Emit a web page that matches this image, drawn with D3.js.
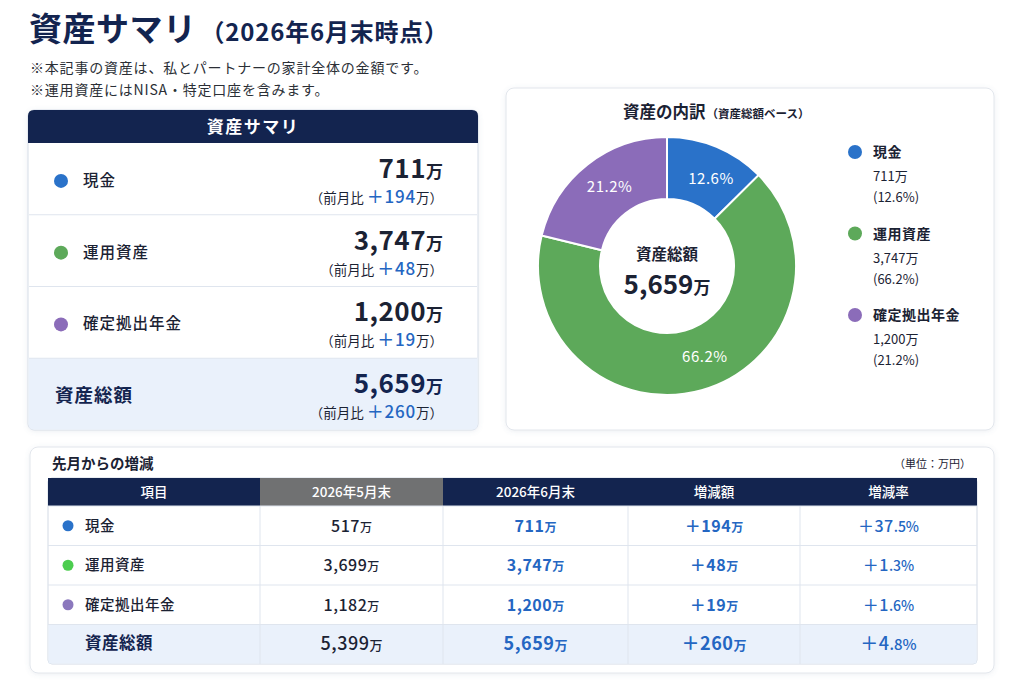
<!DOCTYPE html>
<html>
<head>
<meta charset="utf-8">
<script src="https://cdn.jsdelivr.net/npm/d3@7"></script>
<style>
  body { margin: 0; background: #fff; }
  svg { display: block; font-family: "Noto Sans CJK JP", "Noto Sans", sans-serif; }
</style>
</head>
<body>
<div id="chart"></div>
<script>
// 資産データ（万円）
const categories = ["現金", "運用資産", "確定拠出年金"];
const juneValues = [711, 3747, 1200];
const mayValues = [517, 3699, 1182];
const diffValues = [194, 48, 19];
const diffRates = [37.5, 1.3, 1.6];
const shares = [12.6, 66.2, 21.2];
const totalLabel = "資産総額";
const juneTotal = 5659;
const mayTotal = 5399;
const diffTotal = 260;
const rateTotal = 4.8;
const tableHeaders = ["項目", "2026年5月末", "2026年6月末", "増減額", "増減率"];
const notes = ["※本記事の資産は、私とパートナーの家計全体の金額です。", "※運用資産にはNISA・特定口座を含みます。"];

const W = 1024, H = 683;
const navy = "#13244f", ink = "#1b2233", blue = "#2466c2", line = "#dfe5ee", totalBg = "#eaf1fb";
const color = d3.scaleOrdinal().domain(categories).range(["#2a72c9", "#5da95a", "#8b6cb9"]);
const tableDot = d3.scaleOrdinal().domain(categories).range(["#2a72c9", "#4ccd4f", "#8b78bd"]);
const fmt = d3.format(",");

const svg = d3.select("#chart").append("svg").attr("width", W).attr("height", H);

// うっすら影
const f = svg.append("defs").append("filter").attr("id", "shadow")
  .attr("x", "-5%").attr("y", "-5%").attr("width", "110%").attr("height", "115%");
f.append("feDropShadow").attr("dx", 0).attr("dy", 1).attr("stdDeviation", 2.5)
  .attr("flood-color", "#6b7a99").attr("flood-opacity", 0.12);

// タイトル
const title = svg.append("text").attr("x", 29).attr("y", 41).attr("fill", navy).attr("font-weight", 700);
title.append("tspan").attr("font-size", 33).attr("letter-spacing", 0.5).text("資産サマリ");
title.append("tspan").attr("font-size", 24).attr("dx", 4).attr("letter-spacing", 0.8).text("（2026年6月末時点）");

svg.selectAll("text.note").data(notes).join("text")
  .attr("class", "note").attr("x", 30).attr("y", (d, i) => 73 + i * 22)
  .attr("font-size", 14).attr("letter-spacing", 0.8).attr("fill", "#2b2f36").text(d => d);

/////////////////////////////////////////////////////
// 左：資産サマリカード
/////////////////////////////////////////////////////
const left = { x: 28, y: 110, w: 450, h: 320, head: 33 };
const lg = svg.append("g");
lg.append("rect").attr("x", left.x).attr("y", left.y).attr("width", left.w).attr("height", left.h)
  .attr("rx", 6).attr("fill", "#fff").attr("stroke", "#d6dde8").attr("filter", "url(#shadow)");
lg.append("path")
  .attr("d", `M${left.x},${left.y + left.head} V${left.y + 6} Q${left.x},${left.y} ${left.x + 6},${left.y} H${left.x + left.w - 6} Q${left.x + left.w},${left.y} ${left.x + left.w},${left.y + 6} V${left.y + left.head} Z`)
  .attr("fill", navy);
lg.append("text").attr("x", left.x + left.w / 2).attr("y", left.y + 23).attr("text-anchor", "middle")
  .attr("fill", "#fff").attr("font-size", 17).attr("font-weight", 700).attr("letter-spacing", 1.5).text("資産サマリ");

const summaryRows = categories.map((c, i) => ({ name: c, value: juneValues[i], diff: diffValues[i], total: false }))
  .concat([{ name: totalLabel, value: juneTotal, diff: diffTotal, total: true }]);
const ly = d3.scaleBand().domain(d3.range(summaryRows.length))
  .range([left.y + left.head, left.y + left.h]);

const rowG = lg.selectAll("g.row").data(summaryRows).join("g").attr("class", "row")
  .attr("transform", (d, i) => `translate(0,${ly(i)})`);
rowG.filter(d => d.total).append("path")
  .attr("d", `M${left.x + 0.5},0 H${left.x + left.w - 0.5} V${ly.bandwidth() - 6} Q${left.x + left.w - 0.5},${ly.bandwidth() - 0.5} ${left.x + left.w - 6},${ly.bandwidth() - 0.5} H${left.x + 6} Q${left.x + 0.5},${ly.bandwidth() - 0.5} ${left.x + 0.5},${ly.bandwidth() - 6} Z`)
  .attr("fill", totalBg);
rowG.filter((d, i) => i > 0).append("line")
  .attr("x1", left.x + 1).attr("x2", left.x + left.w - 1).attr("stroke", line);
const mid = ly.bandwidth() / 2;
rowG.filter(d => !d.total).append("circle").attr("cx", 61).attr("cy", mid + 2).attr("r", 7)
  .attr("fill", d => color(d.name));
rowG.append("text").attr("x", d => d.total ? 55 : 83).attr("y", d => mid + (d.total ? 8 : 7))
  .attr("font-size", d => d.total ? 18.5 : 15.5).attr("font-weight", d => d.total ? 700 : 500)
  .attr("fill", d => d.total ? navy : ink).attr("letter-spacing", 1).text(d => d.name);
const valT = rowG.append("text").attr("x", 443).attr("y", mid - 1).attr("text-anchor", "end")
  .attr("fill", d => d.total ? navy : ink).attr("font-weight", 700);
valT.append("tspan").attr("font-size", 26).attr("letter-spacing", 0.5).text(d => fmt(d.value));
valT.append("tspan").attr("font-size", 17).text("万");
const subT = rowG.append("text").attr("x", 443).attr("y", mid + 24).attr("text-anchor", "end")
  .attr("font-size", 13.5).attr("fill", ink);
subT.append("tspan").text("（前月比 ");
subT.append("tspan").attr("fill", blue).attr("font-size", 17).attr("font-weight", 500)
  .attr("letter-spacing", 0.8).text(d => "＋" + d.diff);
subT.append("tspan").text("万）");

/////////////////////////////////////////////////////
// 右：資産の内訳（ドーナツ）
/////////////////////////////////////////////////////
const right = { x: 506, y: 88, w: 488, h: 342 };
const rg = svg.append("g");
rg.append("rect").attr("x", right.x).attr("y", right.y).attr("width", right.w).attr("height", right.h)
  .attr("rx", 8).attr("fill", "#fff").attr("stroke", "#e2e6ec").attr("filter", "url(#shadow)");
const rt = rg.append("text").attr("x", 623).attr("y", 118).attr("fill", ink).attr("font-weight", 700);
rt.append("tspan").attr("font-size", 16.5).text("資産の内訳");
rt.append("tspan").attr("font-size", 11.5).attr("dx", 1).text("（資産総額ベース）");

const cx = 667, cy = 266, outerR = 129, innerR = 67;
const labelPos = [0.59, 0.47, 0.53];
const pie = d3.pie().sort(null).value(d => d.value);
const arcs = pie(categories.map((c, i) => ({ name: c, value: juneValues[i], share: shares[i] })));
const arc = d3.arc().innerRadius(innerR).outerRadius(outerR);
const donut = rg.append("g").attr("transform", `translate(${cx},${cy})`);
donut.selectAll("path").data(arcs).join("path")
  .attr("d", arc).attr("fill", d => color(d.data.name)).attr("stroke", "#fff").attr("stroke-width", 2);
const labelR = (innerR + outerR) / 2;
const labelArc = d3.arc().innerRadius(labelR).outerRadius(labelR);
donut.selectAll("text.pct").data(arcs).join("text").attr("class", "pct")
  .attr("transform", d => {
    const a = d.startAngle + (d.endAngle - d.startAngle) * labelPos[d.index];
    const [x, y] = labelArc.centroid({ startAngle: a, endAngle: a });
    return `translate(${x},${y})`;
  })
  .attr("text-anchor", "middle").attr("dy", "0.35em").attr("fill", "#fff").attr("font-size", 15)
  .attr("letter-spacing", 0.5).text(d => d.data.share.toFixed(1) + "%");
donut.append("text").attr("y", -6).attr("text-anchor", "middle").attr("fill", ink)
  .attr("font-size", 15.5).attr("font-weight", 700).text(totalLabel);
const ct = donut.append("text").attr("y", 28).attr("text-anchor", "middle").attr("fill", ink).attr("font-weight", 700);
ct.append("tspan").attr("font-size", 26).text(fmt(juneTotal));
ct.append("tspan").attr("font-size", 17).text("万");

const legY = d3.scalePoint().domain(categories).range([152, 315]);
const leg = rg.selectAll("g.leg").data(arcs).join("g").attr("class", "leg")
  .attr("transform", d => `translate(855,${legY(d.data.name)})`);
leg.append("circle").attr("r", 7).attr("fill", d => color(d.data.name));
leg.append("text").attr("x", 18).attr("y", 5).attr("font-size", 14).attr("font-weight", 700)
  .attr("fill", ink).attr("letter-spacing", 0.5).text(d => d.data.name);
leg.append("text").attr("x", 18).attr("y", 29).attr("font-size", 13).attr("fill", ink)
  .text(d => fmt(d.data.value) + "万");
leg.append("text").attr("x", 18).attr("y", 50).attr("font-size", 13).attr("fill", ink)
  .text(d => "(" + d.data.share.toFixed(1) + "%)");

/////////////////////////////////////////////////////
// 下：先月からの増減テーブル
/////////////////////////////////////////////////////
const bottom = { x: 30, y: 447, w: 964, h: 226 };
const bg = svg.append("g");
bg.append("rect").attr("x", bottom.x).attr("y", bottom.y).attr("width", bottom.w).attr("height", bottom.h)
  .attr("rx", 8).attr("fill", "#fff").attr("stroke", "#e2e6ec").attr("filter", "url(#shadow)");
bg.append("text").attr("x", 52).attr("y", 469).attr("font-size", 14.5).attr("font-weight", 700)
  .attr("fill", ink).text("先月からの増減");
bg.append("text").attr("x", 971).attr("y", 468).attr("text-anchor", "end").attr("font-size", 11)
  .attr("fill", ink).text("（単位：万円）");

const colEdges = [48, 260, 443, 628, 800, 977];
const colX = i => colEdges[i], colW = i => colEdges[i + 1] - colEdges[i];
const headTop = 478, headH = 28;
const tableRows = categories.map((c, i) => ({ name: c, may: mayValues[i], june: juneValues[i], diff: diffValues[i], rate: diffRates[i], total: false }))
  .concat([{ name: totalLabel, may: mayTotal, june: juneTotal, diff: diffTotal, rate: rateTotal, total: true }]);
const ty = d3.scaleBand().domain(d3.range(tableRows.length)).range([headTop + headH, 664]);

bg.append("rect").attr("x", colEdges[0]).attr("y", headTop).attr("width", colEdges[5] - colEdges[0])
  .attr("height", 664 - headTop).attr("rx", 4).attr("fill", "#fff").attr("stroke", "#d3dae5");
bg.selectAll("rect.th").data(tableHeaders).join("rect").attr("class", "th")
  .attr("x", (d, i) => colX(i)).attr("y", headTop).attr("width", (d, i) => colW(i)).attr("height", headH)
  .attr("fill", (d, i) => i === 1 ? "#707172" : navy);
bg.selectAll("text.th").data(tableHeaders).join("text").attr("class", "th")
  .attr("x", (d, i) => colX(i) + colW(i) / 2).attr("y", headTop + 19).attr("text-anchor", "middle")
  .attr("font-size", 13.5).attr("font-weight", 500).attr("fill", "#fff").text(d => d);

const tr = bg.selectAll("g.tr").data(tableRows).join("g").attr("class", "tr")
  .attr("transform", (d, i) => `translate(0,${ty(i)})`);
const rh = ty.bandwidth();
tr.filter(d => d.total).append("rect").attr("x", colEdges[0] + 0.5).attr("width", colEdges[5] - colEdges[0] - 1)
  .attr("height", rh - 0.5).attr("fill", totalBg);
tr.append("line").attr("x1", colEdges[0]).attr("x2", colEdges[5]).attr("stroke", line);
tr.selectAll("line.v").data(colEdges.slice(1, 5)).join("line").attr("class", "v")
  .attr("x1", d => d).attr("x2", d => d).attr("y1", 0).attr("y2", rh).attr("stroke", line);
tr.filter(d => !d.total).append("circle").attr("cx", 68).attr("cy", rh / 2).attr("r", 5.5)
  .attr("fill", d => tableDot(d.name));
tr.append("text").attr("x", 85).attr("y", rh / 2 + 5)
  .attr("font-size", d => d.total ? 16.5 : 14.5).attr("font-weight", d => d.total ? 700 : 500)
  .attr("fill", d => d.total ? navy : ink).attr("letter-spacing", 0.5).text(d => d.name);

function cell(colIdx, fill, main, unit, weight, unitSize) {
  const t = tr.append("text").attr("x", colX(colIdx) + colW(colIdx) / 2).attr("y", rh / 2 + 6)
    .attr("text-anchor", "middle").attr("fill", fill).attr("font-weight", weight);
  t.append("tspan").attr("font-size", d => d.total ? 18 : 16).attr("letter-spacing", 0.5).text(main);
  t.append("tspan").attr("font-size", d => d.total ? unitSize + 1 : unitSize).text(unit);
}
cell(1, ink, d => fmt(d.may), () => "万", 500, 12);
cell(2, blue, d => fmt(d.june), () => "万", 600, 12);
cell(3, blue, d => "＋" + d.diff, () => "万", 600, 12);
cell(4, blue, d => "＋" + d.rate.toFixed(1).split(".")[0], d => "." + d.rate.toFixed(1).split(".")[1] + "%", 500, 14);
</script>
</body>
</html>
